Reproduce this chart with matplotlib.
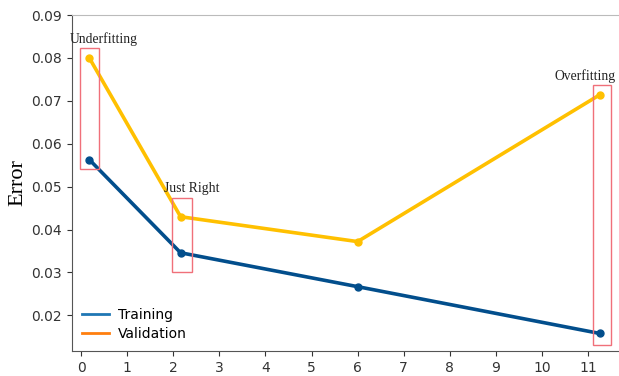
import matplotlib
matplotlib.use("Agg")
import matplotlib.pyplot as plt
from matplotlib.patches import Rectangle
from matplotlib.lines import Line2D

x_pts = [0.18, 2.16, 6.0, 11.25]
training = [0.0563, 0.0346, 0.0267, 0.0158]
validation = [0.0800, 0.0430, 0.0372, 0.0714]
xticks = list(range(0, 12))
yticks = [0.02, 0.03, 0.04, 0.05, 0.06, 0.07, 0.08, 0.09]
labels = ["Underfitting", "Just Right", "Overfitting"]
boxes = [(-0.02, 0.0541, 0.42, 0.0282), (1.97, 0.0302, 0.43, 0.0172), (11.1, 0.0131, 0.4, 0.0605)]
label_pos = [(0.5, 0.0845), (2.4, 0.0495), (10.93, 0.0758)]

fig = plt.figure(figsize=(6.19, 3.76), dpi=100)
ax = fig.add_axes([0.116, 0.067, 0.884, 0.893])

ax.plot(x_pts, training, color="#024e8c", lw=2.6, marker="o", ms=5, zorder=3)
ax.plot(x_pts, validation, color="#ffc000", lw=2.6, marker="o", ms=5, zorder=3)

for (bx, by, bw, bh) in boxes:
    ax.add_patch(Rectangle((bx, by), bw, bh, fill=False, edgecolor="#f0707a", lw=1.0, zorder=4))
for t, (tx, ty) in zip(labels, label_pos):
    ax.text(tx, ty, t, family="Liberation Serif", fontsize=9.8, ha="center", va="center", color="#222222")

ax.set_xlim(-0.2, 11.67)
ax.set_ylim(0.01175, 0.09)
ax.set_xticks(xticks)
ax.set_yticks(yticks)
ax.set_yticklabels([f"{v:.2f}" for v in yticks])
ax.tick_params(labelsize=10, colors="#333333")
ax.set_ylabel("Error", family="Liberation Serif", fontsize=16, labelpad=3)

ax.spines["right"].set_visible(False)
ax.spines["top"].set_color("#bbbbbb")
ax.spines["left"].set_color("#555555")
ax.spines["bottom"].set_color("#555555")

handles = [Line2D([], [], color="tab:blue", lw=2), Line2D([], [], color="tab:orange", lw=2)]
ax.legend(handles, ["Training", "Validation"], loc="lower left", frameon=False, fontsize=10,
          handlelength=2.0, borderaxespad=0.3, labelspacing=0.4, handletextpad=0.6)

fig.savefig("out.png", dpi=100)
